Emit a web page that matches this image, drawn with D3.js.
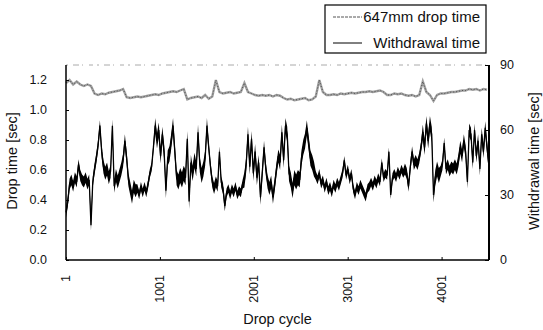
<!DOCTYPE html>
<html>
<head>
<meta charset="utf-8">
<script src="https://cdn.jsdelivr.net/npm/d3@7"></script>
<style>
  html, body { margin: 0; padding: 0; background: #fff; overflow: hidden; }
  svg { display: block; }
  svg text { font-family: "Liberation Sans", Arial, sans-serif; fill: #111; }
</style>
</head>
<body>
<div id="chart"></div>
<script>
// data
const cycleStart = 1;
const withdrawalStep = 19;   // cycles between withdrawal samples
const dropStep = 38;         // cycles between drop time samples

// withdrawal time [sec], right axis
const withdrawalTime = [
  22, 27, 35, 37, 34, 38, 36, 44, 39, 37,
  36, 38, 35, 37, 16, 36, 42, 47, 53, 62,
  50, 43, 40, 42, 38, 41, 62, 34, 39, 36,
  39, 42, 46, 55, 47, 37, 33, 29, 34, 32,
  33, 30, 34, 31, 34, 31, 35, 40, 43, 52,
  62, 55, 60, 48, 58, 50, 32, 47, 49, 55,
  62, 50, 38, 36, 39, 37, 40, 38, 56, 27,
  45, 40, 46, 42, 59, 44, 39, 42, 47, 62,
  52, 43, 36, 33, 36, 34, 50, 36, 33, 25,
  31, 33, 30, 33, 31, 34, 30, 32, 31, 35,
  37, 44, 58, 43, 56, 40, 50, 38, 45, 29,
  40, 52, 42, 36, 33, 36, 29, 35, 42, 48,
  45, 59, 46, 62, 58, 40, 37, 32, 38, 36,
  38, 37, 47, 52, 55, 61, 54, 47, 45, 42,
  39, 37, 40, 35, 37, 33, 36, 32, 34, 31,
  35, 33, 36, 34, 37, 40, 46, 39, 42, 37,
  40, 33, 30, 34, 32, 35, 33, 31, 29, 33,
  34, 36, 34, 37, 35, 38, 36, 45, 38, 40,
  39, 50, 30, 38, 40, 38, 41, 39, 42, 40,
  42, 40, 34, 43, 50, 44, 46, 44, 47, 52,
  59, 52, 63, 55, 63, 58, 30, 38, 42, 39,
  41, 44, 54, 42, 44, 41, 43, 42, 44, 42,
  46, 52, 48, 55, 50, 36, 60, 58, 45, 60,
  48, 55, 42, 58, 50, 61, 52, 44
];

// half height of the noisy band, one value per 10 withdrawal samples [sec]
const withdrawalSpread = [
  2.5, 2.5, 3, 3, 2, 3.5, 3.5, 3.5, 2.5, 2,
  3.5, 3, 3.5, 3.5, 2, 2, 2, 2, 2, 2.5,
  3.5, 2.5, 3, 3
];

// 647mm drop time [sec], left axis
const dropTime = [
  1.18, 1.20, 1.17, 1.19, 1.17, 1.16, 1.17, 1.16, 1.11, 1.10,
  1.11, 1.105, 1.115, 1.12, 1.125, 1.13, 1.14, 1.085, 1.08, 1.085,
  1.09, 1.085, 1.09, 1.095, 1.10, 1.105, 1.10, 1.11, 1.115, 1.12,
  1.125, 1.12, 1.13, 1.14, 1.07, 1.08, 1.085, 1.09, 1.08, 1.10,
  1.075, 1.09, 1.20, 1.12, 1.11, 1.115, 1.12, 1.11, 1.115, 1.12,
  1.18, 1.12, 1.11, 1.10, 1.095, 1.10, 1.095, 1.10, 1.09, 1.10,
  1.095, 1.08, 1.07, 1.075, 1.065, 1.07, 1.075, 1.08, 1.065, 1.07,
  1.09, 1.20, 1.12, 1.10, 1.10, 1.105, 1.10, 1.11, 1.105, 1.11,
  1.115, 1.11, 1.115, 1.12, 1.12, 1.125, 1.12, 1.125, 1.13, 1.12,
  1.10, 1.10, 1.11, 1.105, 1.11, 1.10, 1.095, 1.10, 1.09, 1.10,
  1.19, 1.12, 1.10, 1.06, 1.10, 1.11, 1.11, 1.115, 1.12, 1.12,
  1.125, 1.13, 1.13, 1.14, 1.135, 1.14, 1.13, 1.14, 1.135
];

const xTicks = [1, 1001, 2001, 3001, 4001];
const xMax = 4506;
const leftTicks = [0, 0.2, 0.4, 0.6, 0.8, 1.0, 1.2];
const rightTicks = [0, 30, 60, 90];
const seriesNames = ["647mm drop time", "Withdrawal time"];

//size
const width = 543;
const height = 330;
const margin = { top: 65, bottom: 70, left: 66, right: 54 };
const innerWidth = width - margin.left - margin.right;
const innerHeight = height - margin.top - margin.bottom;

const withdrawalData = withdrawalTime.map((v, i) => ({
  cycle: cycleStart + i * withdrawalStep,
  v,
  s: withdrawalSpread[Math.floor(i / 10)],
}));
const dropData = dropTime.map((v, i) => ({ cycle: cycleStart + i * dropStep, v }));

//scales
const xScale = d3.scaleLinear().domain([1, xMax]).range([0, innerWidth]);
const yLeft = d3.scaleLinear().domain([0, 1.3]).range([innerHeight, 0]);
const yRight = d3.scaleLinear().domain([0, 90]).range([innerHeight, 0]);

const svg = d3.select("#chart")
  .append("svg")
  .attr("width", width)
  .attr("height", height)
  .attr("viewBox", `0 0 ${width} ${height}`);

const g = svg.append("g")
  .attr("transform", `translate(${margin.left},${margin.top})`);

// dotted top border
g.append("line")
  .attr("x1", 0).attr("x2", innerWidth)
  .attr("y1", 0).attr("y2", 0)
  .attr("stroke", "#aaa")
  .attr("stroke-width", 1)
  .attr("stroke-dasharray", "2,5,6,3,1,6,4,4");

// drop time: gray line with a fine dark dotted trace on top
const dropLine = d3.line()
  .x((d) => xScale(d.cycle))
  .y((d) => yLeft(d.v));

g.append("path")
  .datum(dropData)
  .attr("fill", "none")
  .attr("stroke", "#a0a0a0")
  .attr("stroke-width", 2.4)
  .attr("d", dropLine);

g.append("path")
  .datum(dropData)
  .attr("fill", "none")
  .attr("stroke", "#444")
  .attr("stroke-width", 0.9)
  .attr("stroke-dasharray", "1,2")
  .attr("d", dropLine);

// withdrawal time: dense band plus the zigzag trace
const withdrawalBand = d3.area()
  .x((d) => xScale(d.cycle))
  .y0((d) => yRight(d.v - d.s))
  .y1((d) => yRight(d.v + d.s));

const withdrawalLine = d3.line()
  .x((d) => xScale(d.cycle))
  .y((d) => yRight(d.v));

g.append("path")
  .datum(withdrawalData)
  .attr("fill", "#000")
  .attr("d", withdrawalBand);

g.append("path")
  .datum(withdrawalData)
  .attr("fill", "none")
  .attr("stroke", "#000")
  .attr("stroke-width", 1.3)
  .attr("stroke-linejoin", "bevel")
  .attr("d", withdrawalLine);

// axes (lines and inward ticks only; labels drawn below)
g.append("g")
  .call(d3.axisRight(yLeft).tickValues(leftTicks).tickSize(3))
  .call((a) => {
    a.selectAll("text").remove();
    a.select(".domain").attr("stroke-width", 1.5).attr("d", `M0,${innerHeight}V0`);
  });

g.append("g")
  .attr("transform", `translate(${innerWidth},0)`)
  .call(d3.axisLeft(yRight).tickValues(rightTicks).tickSize(4))
  .call((a) => {
    a.selectAll("text").remove();
    a.select(".domain").attr("stroke-width", 2).attr("d", `M0,${innerHeight}V0`);
  });

g.append("g")
  .attr("transform", `translate(0,${innerHeight})`)
  .call(d3.axisTop(xScale).tickValues(xTicks).tickSize(3))
  .call((a) => {
    a.selectAll("text").remove();
    a.select(".domain").attr("stroke-width", 1.5).attr("d", `M0,0H${innerWidth}`);
  });

// tick labels
const fmtLeft = d3.format(".1f");

g.append("g")
  .selectAll("text")
  .data(leftTicks)
  .join("text")
  .attr("x", -19)
  .attr("y", (d) => yLeft(d))
  .attr("dy", "0.35em")
  .attr("text-anchor", "end")
  .attr("font-size", 12.5)
  .text((d) => fmtLeft(d));

g.append("g")
  .selectAll("text")
  .data(rightTicks)
  .join("text")
  .attr("x", innerWidth + 11)
  .attr("y", (d) => yRight(d))
  .attr("dy", "0.35em")
  .attr("text-anchor", "start")
  .attr("font-size", 12.5)
  .text((d) => d);

g.append("g")
  .selectAll("text")
  .data(xTicks)
  .join("text")
  .attr("transform", (d) => `translate(${xScale(d)},${innerHeight + 15}) rotate(-90)`)
  .attr("dy", "0.35em")
  .attr("text-anchor", "end")
  .attr("font-size", 12.5)
  .text((d) => d);

// titles
svg.append("text")
  .attr("x", margin.left + innerWidth / 2)
  .attr("y", 324)
  .attr("text-anchor", "middle")
  .attr("font-size", 14.5)
  .text("Drop cycle");

svg.append("text")
  .attr("transform", "translate(17,161) rotate(-90)")
  .attr("text-anchor", "middle")
  .attr("font-size", 14.5)
  .text("Drop time [sec]");

svg.append("text")
  .attr("transform", "translate(539,161) rotate(-90)")
  .attr("text-anchor", "middle")
  .attr("font-size", 14.5)
  .text("Withdrawal time [sec]");

// legend
const legend = svg.append("g").attr("transform", "translate(325,5)");
legend.append("rect")
  .attr("width", 161).attr("height", 48)
  .attr("fill", "#fff").attr("stroke", "#000").attr("stroke-width", 1.2);

legend.selectAll("line.key")
  .data(seriesNames)
  .join("line")
  .attr("class", "key")
  .attr("x1", 8).attr("x2", 37)
  .attr("y1", (d, i) => 12 + i * 26)
  .attr("y2", (d, i) => 12 + i * 26)
  .attr("stroke", (d, i) => (i == 0 ? "#555" : "#000"))
  .attr("stroke-width", 1)
  .attr("stroke-dasharray", (d, i) => (i == 0 ? "3,1" : null));

legend.selectAll("text")
  .data(seriesNames)
  .join("text")
  .attr("x", 155)
  .attr("y", (d, i) => 12 + i * 26)
  .attr("dy", "0.35em")
  .attr("text-anchor", "end")
  .attr("font-size", 15)
  .text((d) => d);
</script>
</body>
</html>
